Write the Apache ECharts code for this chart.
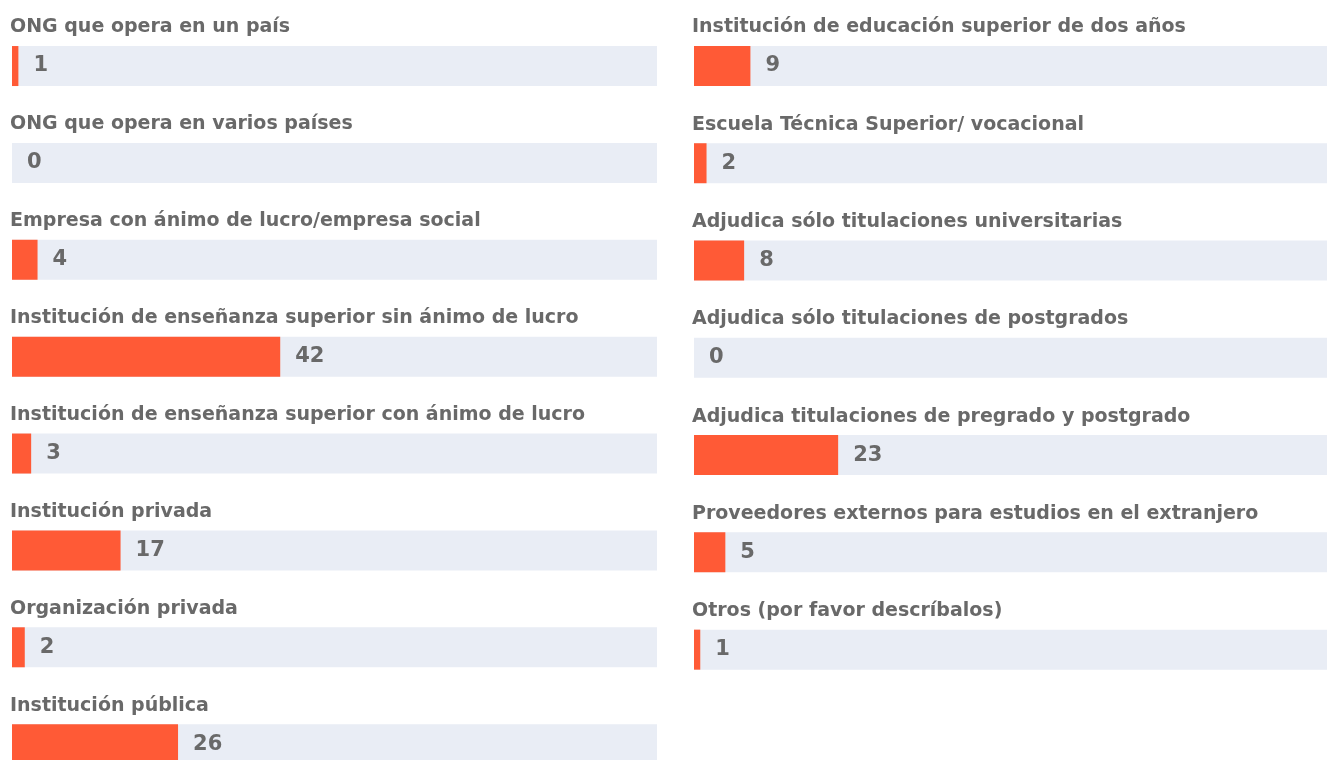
<!DOCTYPE html>
<html>
<head>
<meta charset="utf-8">
<script src="https://cdn.jsdelivr.net/npm/echarts@6/dist/echarts.min.js"></script>
<style>html,body{margin:0;padding:0;background:#fff;overflow:hidden;}#c{width:1327px;height:820px;}</style>
</head>
<body>
<div id="c"></div>
<script>
const leftCategories = [
  "ONG que opera en un país",
  "ONG que opera en varios países",
  "Empresa con ánimo de lucro/empresa social",
  "Institución de enseñanza superior sin ánimo de lucro",
  "Institución de enseñanza superior con ánimo de lucro",
  "Institución privada",
  "Organización privada",
  "Institución pública"
];
const leftValues = [1, 0, 4, 42, 3, 17, 2, 26];

const rightCategories = [
  "Institución de educación superior de dos años",
  "Escuela Técnica Superior/ vocacional",
  "Adjudica sólo titulaciones universitarias",
  "Adjudica sólo titulaciones de postgrados",
  "Adjudica titulaciones de pregrado y postgrado",
  "Proveedores externos para estudios en el extranjero",
  "Otros (por favor descríbalos)"
];
const rightValues = [9, 2, 8, 0, 23, 5, 1];

const BAR = '#FF5A36';
const TRACK = '#E9EDF5';
const TXT = '#696969';

const chart = echarts.init(document.getElementById('c'), null, {renderer: 'canvas'});

function yAx(idx, cats) {
  return {
    type: 'category', gridIndex: idx, data: cats, inverse: true,
    axisLine: {show: false}, axisTick: {show: false}, splitLine: {show: false},
    axisLabel: {
      show: true, align: 'left', margin: 2, verticalAlign: 'bottom',
      padding: [0, 0, 29, 0], lineHeight: 19,
      fontFamily: 'DejaVu Sans', fontWeight: 'bold', fontSize: 19, color: TXT
    }
  };
}
function xAx(idx) {
  return {type: 'value', gridIndex: idx, min: 0, max: 101, show: false};
}
function ser(idx, vals) {
  return {
    type: 'bar', xAxisIndex: idx, yAxisIndex: idx, data: vals,
    barWidth: 40, itemStyle: {color: BAR},
    showBackground: true, backgroundStyle: {color: TRACK},
    label: {
      show: true, position: 'right', distance: 15,
      fontFamily: 'DejaVu Sans', fontWeight: 'bold', fontSize: 21, color: TXT
    },
    silent: true, animation: false
  };
}

chart.setOption({
  animation: false,
  grid: [
    {left: 12, top: 17.6, width: 645, height: 775},
    {left: 694, top: 17.3, width: 645, height: 681}
  ],
  xAxis: [xAx(0), xAx(1)],
  yAxis: [yAx(0, leftCategories), yAx(1, rightCategories)],
  series: [ser(0, leftValues), ser(1, rightValues)]
});
</script>
</body>
</html>
